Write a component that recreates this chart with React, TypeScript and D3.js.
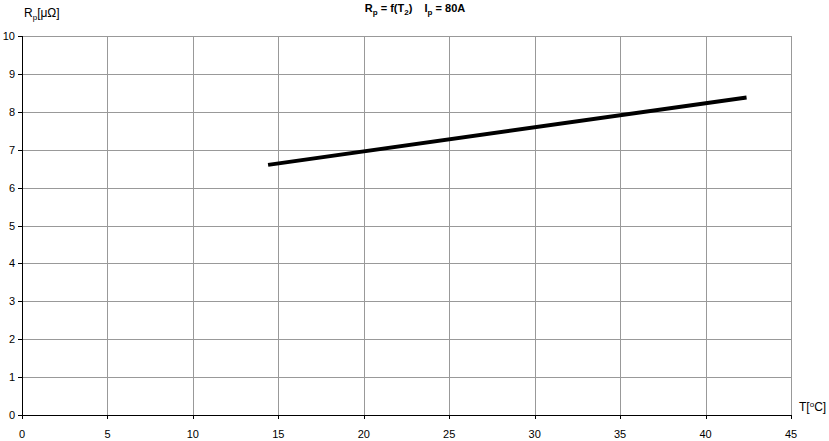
import React from "react";
import * as d3 from "d3";

const xTicks = [0, 5, 10, 15, 20, 25, 30, 35, 40, 45];
const yTicks = [0, 1, 2, 3, 4, 5, 6, 7, 8, 9, 10];
const tempValues = [14.4, 42.4];
const resistanceValues = [6.6, 8.38];

const W = 829, H = 441;
const M = { left: 22, right: 791, top: 36, bottom: 415 };

export default function App() {
  const x = d3.scaleLinear().domain([0, 45]).range([M.left, M.right]);
  const y = d3.scaleLinear().domain([0, 10]).range([M.bottom, M.top]);
  const pts = tempValues.map((t, i) => [t, resistanceValues[i]] as [number, number]);
  const line = d3.line<[number, number]>().x(d => x(d[0])).y(d => y(d[1]));
  const font = "'Liberation Sans', Arial, sans-serif";
  return (
    <svg width={W} height={H} style={{ position: "absolute", left: 0, top: 0, background: "#fff" }} fontFamily={font}>
      <rect x={0} y={0} width={W} height={H} fill="#fff" />
      {yTicks.filter(v => v > 0).map(v => (
        <line key={"gy" + v} x1={M.left} x2={M.right} y1={Math.round(y(v)) + 0.5} y2={Math.round(y(v)) + 0.5} stroke="#999" strokeWidth={1} />
      ))}
      {xTicks.filter(v => v > 0).map(v => (
        <line key={"gx" + v} x1={Math.round(x(v)) + 0.5} x2={Math.round(x(v)) + 0.5} y1={M.top} y2={M.bottom} stroke="#999" strokeWidth={1} />
      ))}
      <line x1={M.left + 0.5} x2={M.left + 0.5} y1={M.top} y2={M.bottom + 1} stroke="#000" />
      <line x1={M.left} x2={M.right + 1} y1={M.bottom + 0.5} y2={M.bottom + 0.5} stroke="#000" />
      {yTicks.map(v => (
        <g key={"ty" + v}>
          <line x1={M.left - 4} x2={M.left} y1={Math.round(y(v)) + 0.5} y2={Math.round(y(v)) + 0.5} stroke="#000" />
          <text x={15} y={y(v) + 4} fontSize={11} textAnchor="end" fill="#000">{v}</text>
        </g>
      ))}
      {xTicks.map(v => (
        <g key={"tx" + v}>
          <line x1={Math.round(x(v)) + 0.5} x2={Math.round(x(v)) + 0.5} y1={M.bottom} y2={M.bottom + 4} stroke="#000" />
          <text x={x(v)} y={438} fontSize={11} textAnchor="middle" fill="#000">{v}</text>
        </g>
      ))}
      <path d={line(pts) || ""} fill="none" stroke="#000" strokeWidth={4} />
      <text x={415} y={12} fontSize={11} fontWeight="bold" textAnchor="middle" fill="#000" style={{ whiteSpace: "pre" }}>
        R<tspan fontSize={8} dy={3}>p</tspan><tspan dy={-3}>{" = f(T"}</tspan><tspan fontSize={8} dy={3}>2</tspan><tspan dy={-3}>{")    I"}</tspan><tspan fontSize={8} dy={3}>p</tspan><tspan dy={-3}>{" = 80A"}</tspan>
      </text>
      <text x={24} y={17} fontSize={12} fill="#000">
        R<tspan fontSize={8} dy={3}>p</tspan><tspan dy={-3}>[μΩ]</tspan>
      </text>
      <text x={799} y={411} fontSize={12} fill="#000">
        T[<tspan fontSize={8} dy={-4}>o</tspan><tspan dy={4}>C]</tspan>
      </text>
    </svg>
  );
}
